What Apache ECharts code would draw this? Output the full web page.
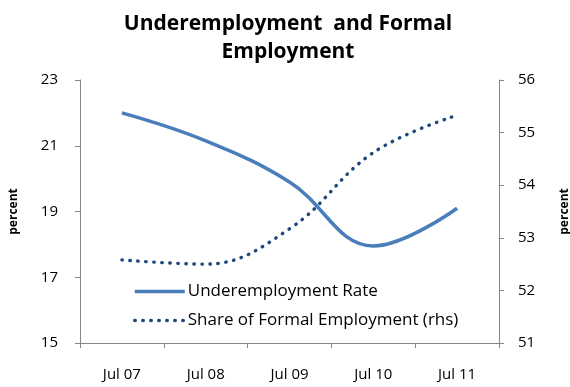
<!DOCTYPE html>
<html>
<head>
<meta charset="utf-8">
<script src="https://cdn.jsdelivr.net/npm/echarts@6/dist/echarts.min.js"></script>
<style>
html,body{margin:0;padding:0;background:#fff;}
#chart{width:570px;height:387px;}
</style>
</head>
<body>
<div id="chart"></div>
<script>
var months = ['Jul 07', 'Jul 08', 'Jul 09', 'Jul 10', 'Jul 11'];
var underRate = [22.0, 21.15, 19.9, 17.95, 19.1];
var formalShare = [52.58, 52.5, 53.17, 54.62, 55.33];

var myChart = echarts.init(document.getElementById('chart'));
var font = 'Open Sans';
var axisGrey = '#868686';

var option = {
    backgroundColor: '#fff',
    animation: false,
    title: {
        text: 'Underemployment  and Formal\nEmployment',
        left: 283,
        textAlign: 'center',
        top: 5,
        textStyle: {
            fontFamily: font,
            fontWeight: 'bold',
            fontSize: 21,
            lineHeight: 28,
            color: '#000'
        }
    },
    grid: {
        left: 80,
        right: 71,
        top: 80,
        bottom: 44,
        outerBoundsMode: 'none'
    },
    legend: {
        orient: 'vertical',
        left: 128,
        top: 278,
        itemWidth: 50,
        itemHeight: 10,
        itemGap: 12,
        itemStyle: {opacity: 0},
        lineStyle: {width: 3.5},
        textStyle: {
            fontFamily: font,
            fontSize: 17,
            color: '#000',
            padding: [0, 0, 0, -2]
        },
        data: ['Underemployment Rate', 'Share of Formal Employment (rhs)']
    },
    xAxis: {
        type: 'category',
        data: months,
        boundaryGap: true,
        axisLine: {lineStyle: {color: axisGrey}},
        axisTick: {show: true, length: 5, lineStyle: {color: axisGrey}},
        axisLabel: {
            margin: 24,
            fontFamily: font,
            fontSize: 15,
            color: '#000'
        }
    },
    yAxis: [{
        type: 'value',
        min: 15,
        max: 23,
        interval: 2,
        name: 'percent',
        nameLocation: 'middle',
        nameGap: 60,
        nameRotate: 90,
        nameTextStyle: {fontFamily: font, fontWeight: 'bold', fontSize: 12, color: '#000'},
        axisLine: {show: true, lineStyle: {color: axisGrey}},
        axisTick: {show: true, length: 5, lineStyle: {color: axisGrey}},
        splitLine: {show: false},
        axisLabel: {fontFamily: font, fontSize: 15, color: '#000', margin: 22}
    }, {
        type: 'value',
        min: 51,
        max: 56,
        interval: 1,
        name: 'percent',
        nameLocation: 'middle',
        nameGap: 60,
        nameRotate: 90,
        nameTextStyle: {fontFamily: font, fontWeight: 'bold', fontSize: 12, color: '#000'},
        axisLine: {show: true, lineStyle: {color: axisGrey}},
        axisTick: {show: true, length: 5, lineStyle: {color: axisGrey}},
        splitLine: {show: false},
        axisLabel: {fontFamily: font, fontSize: 15, color: '#000', margin: 19}
    }],
    series: [{
        name: 'Underemployment Rate',
        type: 'line',
        data: underRate,
        smooth: 0.4,
        showSymbol: false,
        symbol: 'none',
        yAxisIndex: 0,
        itemStyle: {color: '#4a7ebb'},
        lineStyle: {color: '#4a7ebb', width: 3.5}
    }, {
        name: 'Share of Formal Employment (rhs)',
        type: 'line',
        data: formalShare,
        smooth: 0.4,
        showSymbol: false,
        symbol: 'none',
        yAxisIndex: 1,
        itemStyle: {color: '#1f497d'},
        lineStyle: {color: '#1f497d', width: 3.4, type: [0.5, 7.5], cap: 'round'}
    }]
};
myChart.setOption(option);
</script>
</body>
</html>
